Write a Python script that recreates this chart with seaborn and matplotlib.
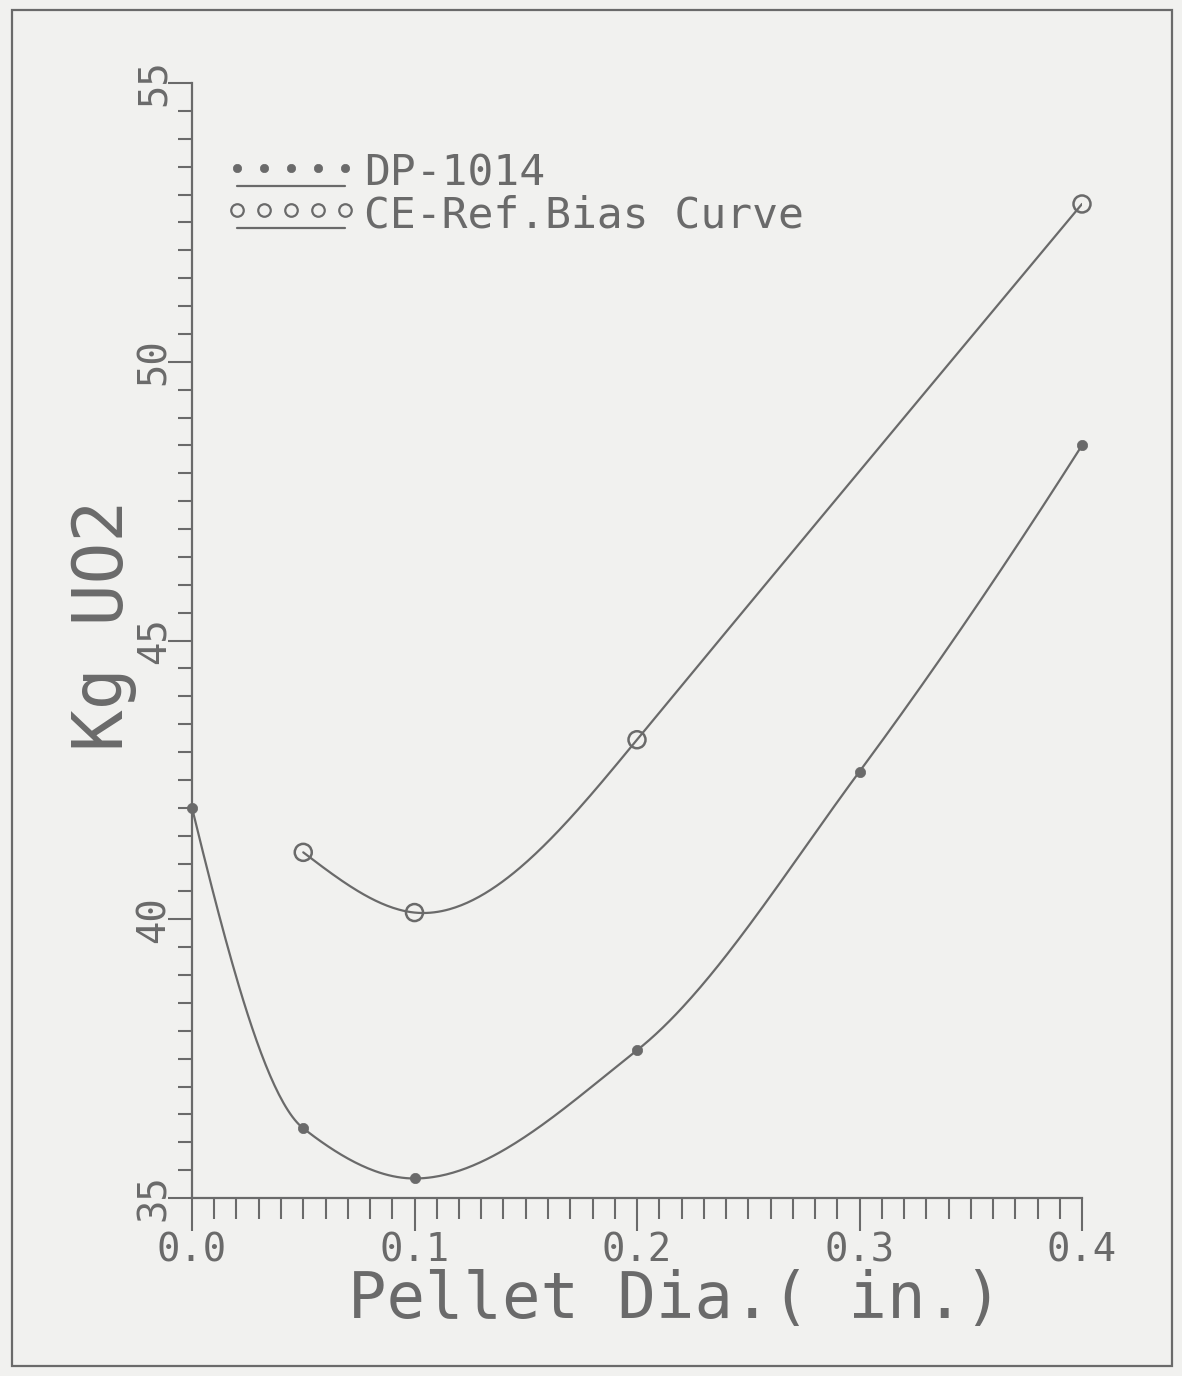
import numpy as np
import matplotlib
matplotlib.use("Agg")
import matplotlib.pyplot as plt
import seaborn as sns
from matplotlib.lines import Line2D
from matplotlib.legend_handler import HandlerBase
from matplotlib.patches import Rectangle
from matplotlib.ticker import MultipleLocator

# ---- data ----
dp_x = [0.0, 0.05, 0.1, 0.2, 0.3, 0.4]
dp_y = [42.0, 36.25, 35.35, 37.65, 42.65, 48.5]
ce_x = [0.05, 0.1, 0.2, 0.4]
ce_y = [41.2, 40.12, 43.22, 52.83]
series_labels = ["DP-1014", "CE-Ref.Bias Curve"]
x_ticks = [0.0, 0.1, 0.2, 0.3, 0.4]
x_ticklabels = ["0.0", "0.1", "0.2", "0.3", "0.4"]
y_ticks = [35, 40, 45, 50, 55]
y_ticklabels = ["35", "40", "45", "50", "55"]
x_label = "Pellet Dia.( in.)"
y_label = "Kg UO2"

GREY = "#6a6a6a"
BG = "#f1f1ef"


def pchip_curve(x, y, n=400):
    """Smooth monotone (Fritsch-Carlson) curve through the data points."""
    x = np.asarray(x, float)
    y = np.asarray(y, float)
    h = np.diff(x)
    d = np.diff(y) / h
    k = len(x)
    m = np.zeros(k)
    for i in range(1, k - 1):
        if d[i - 1] * d[i] <= 0:
            m[i] = 0.0
        else:
            w1 = 2 * h[i] + h[i - 1]
            w2 = h[i] + 2 * h[i - 1]
            m[i] = (w1 + w2) / (w1 / d[i - 1] + w2 / d[i])

    def end(h0, h1, d0, d1):
        mm = ((2 * h0 + h1) * d0 - h0 * d1) / (h0 + h1)
        if np.sign(mm) != np.sign(d0):
            mm = 0.0
        elif np.sign(d0) != np.sign(d1) and abs(mm) > abs(3 * d0):
            mm = 3 * d0
        return mm

    m[0] = end(h[0], h[1], d[0], d[1])
    m[-1] = end(h[-1], h[-2], d[-1], d[-2])
    xs = np.linspace(x[0], x[-1], n)
    ys = np.empty_like(xs)
    for j, xv in enumerate(xs):
        i = min(np.searchsorted(x, xv, side="right") - 1, k - 2)
        t = (xv - x[i]) / h[i]
        h00 = 2 * t**3 - 3 * t**2 + 1
        h10 = t**3 - 2 * t**2 + t
        h01 = -2 * t**3 + 3 * t**2
        h11 = t**3 - t**2
        ys[j] = h00 * y[i] + h10 * h[i] * m[i] + h01 * y[i + 1] + h11 * h[i] * m[i + 1]
    return xs, ys


def natural_spline(x, y, n=400):
    x = np.asarray(x, float)
    y = np.asarray(y, float)
    k = len(x)
    h = np.diff(x)
    A = np.zeros((k, k))
    b = np.zeros(k)
    A[0, 0] = 1
    A[-1, -1] = 1
    for i in range(1, k - 1):
        A[i, i - 1] = h[i - 1]
        A[i, i] = 2 * (h[i - 1] + h[i])
        A[i, i + 1] = h[i]
        b[i] = 3 * ((y[i + 1] - y[i]) / h[i] - (y[i] - y[i - 1]) / h[i - 1])
    c = np.linalg.solve(A, b)
    xs = np.linspace(x[0], x[-1], n)
    ys = np.empty_like(xs)
    for j, xv in enumerate(xs):
        i = min(np.searchsorted(x, xv, side="right") - 1, k - 2)
        dx = xv - x[i]
        bb = (y[i + 1] - y[i]) / h[i] - h[i] * (2 * c[i] + c[i + 1]) / 3
        dd = (c[i + 1] - c[i]) / (3 * h[i])
        ys[j] = y[i] + bb * dx + c[i] * dx ** 2 + dd * dx ** 3
    return xs, ys


sns.set_style("white")
plt.rcParams["font.family"] = ["DejaVu Sans Mono", "DejaVu Sans"]

fig = plt.figure(figsize=(11.82, 13.76), dpi=100, facecolor=BG)
ax = fig.add_axes([192 / 1182, 1 - 1198 / 1376, 890 / 1182, 1115 / 1376])
ax.set_facecolor(BG)

dsx, dsy = pchip_curve(dp_x, dp_y)
csx, csy = natural_spline(ce_x, ce_y)
sns.lineplot(x=dsx, y=dsy, ax=ax, color=GREY, lw=1.6, sort=False, estimator=None)
sns.lineplot(x=csx, y=csy, ax=ax, color=GREY, lw=1.6, sort=False, estimator=None)
sns.scatterplot(x=dp_x, y=dp_y, ax=ax, color=GREY, s=55, marker="o",
                edgecolor=GREY, linewidth=0.5, zorder=5, clip_on=False)
sns.scatterplot(x=ce_x, y=ce_y, ax=ax, facecolor="none", s=150, marker="o",
                edgecolor=GREY, linewidth=1.8, zorder=5, clip_on=False)

ax.set_xlim(0, 0.4)
ax.set_ylim(35, 55)
ax.set_xticks(x_ticks)
ax.set_xticklabels(x_ticklabels)
ax.set_yticks(y_ticks)
ax.set_yticklabels(y_ticklabels, rotation=90, va="center")
ax.xaxis.set_minor_locator(MultipleLocator(0.01))
ax.yaxis.set_minor_locator(MultipleLocator(0.5))
ax.tick_params(axis="both", which="major", direction="out", color=GREY,
               width=1.5, labelcolor=GREY, labelsize=28)
ax.tick_params(axis="x", which="major", length=24, pad=0)
ax.tick_params(axis="y", which="major", length=17, pad=-3)
ax.tick_params(axis="x", which="minor", length=15, width=1.5, color=GREY, direction="out")
ax.tick_params(axis="y", which="minor", length=10, width=1.5, color=GREY, direction="out")
ax.tick_params(axis="x", which="both", bottom=True)
ax.tick_params(axis="y", which="both", left=True)

for s in ["top", "right"]:
    ax.spines[s].set_visible(False)
for s in ["left", "bottom"]:
    ax.spines[s].set_color(GREY)
    ax.spines[s].set_linewidth(1.6)

ax.set_xlabel(x_label, fontsize=46, color=GREY, va="baseline")
ax.xaxis.set_label_coords((675 - 192) / 890, (1198 - 1318) / 1115)
ax.set_ylabel(y_label, fontsize=50, color=GREY, ha="center", va="baseline",
              rotation_mode="anchor")
ax.yaxis.set_label_coords((123 - 192) / 890, (1198 - 625) / 1115)


class UnderHandler(HandlerBase):
    def create_artists(self, legend, orig_handle, xdescent, ydescent,
                       width, height, fontsize, trans):
        xs = np.linspace(0, width, 5) - xdescent
        m = Line2D(xs, [height * 0.6 - ydescent] * 5, linestyle="none",
                   marker="o", markersize=orig_handle.get_markersize(),
                   markerfacecolor=orig_handle.get_markerfacecolor(),
                   markeredgecolor=GREY, markeredgewidth=orig_handle.get_markeredgewidth(),
                   transform=trans)
        l = Line2D([-xdescent, width - xdescent], [-ydescent + height * 0.0] * 2,
                   color=GREY, lw=1.6, transform=trans)
        return [m, l]


h1 = Line2D([], [], marker="o", markersize=6, markerfacecolor=GREY,
            markeredgewidth=0.5, linestyle="none")
h2 = Line2D([], [], marker="o", markersize=9, markerfacecolor="none",
            markeredgewidth=1.6, linestyle="none")
leg = ax.legend([h1, h2], series_labels, handler_map={Line2D: UnderHandler()},
                loc="upper left", bbox_to_anchor=((237 - 192) / 890, (1198 - 153) / 1115),
                frameon=False, fontsize=31, handlelength=2.5, handletextpad=0.45,
                labelspacing=0.0, borderpad=0, borderaxespad=0)
for t in leg.get_texts():
    t.set_color(GREY)

fig.patches.append(Rectangle((12 / 1182, 10 / 1376), 1160 / 1182, 1356 / 1376,
                             transform=fig.transFigure, fill=False,
                             edgecolor=GREY, lw=1.6))

fig.savefig("out.png", dpi=100, facecolor=BG)
